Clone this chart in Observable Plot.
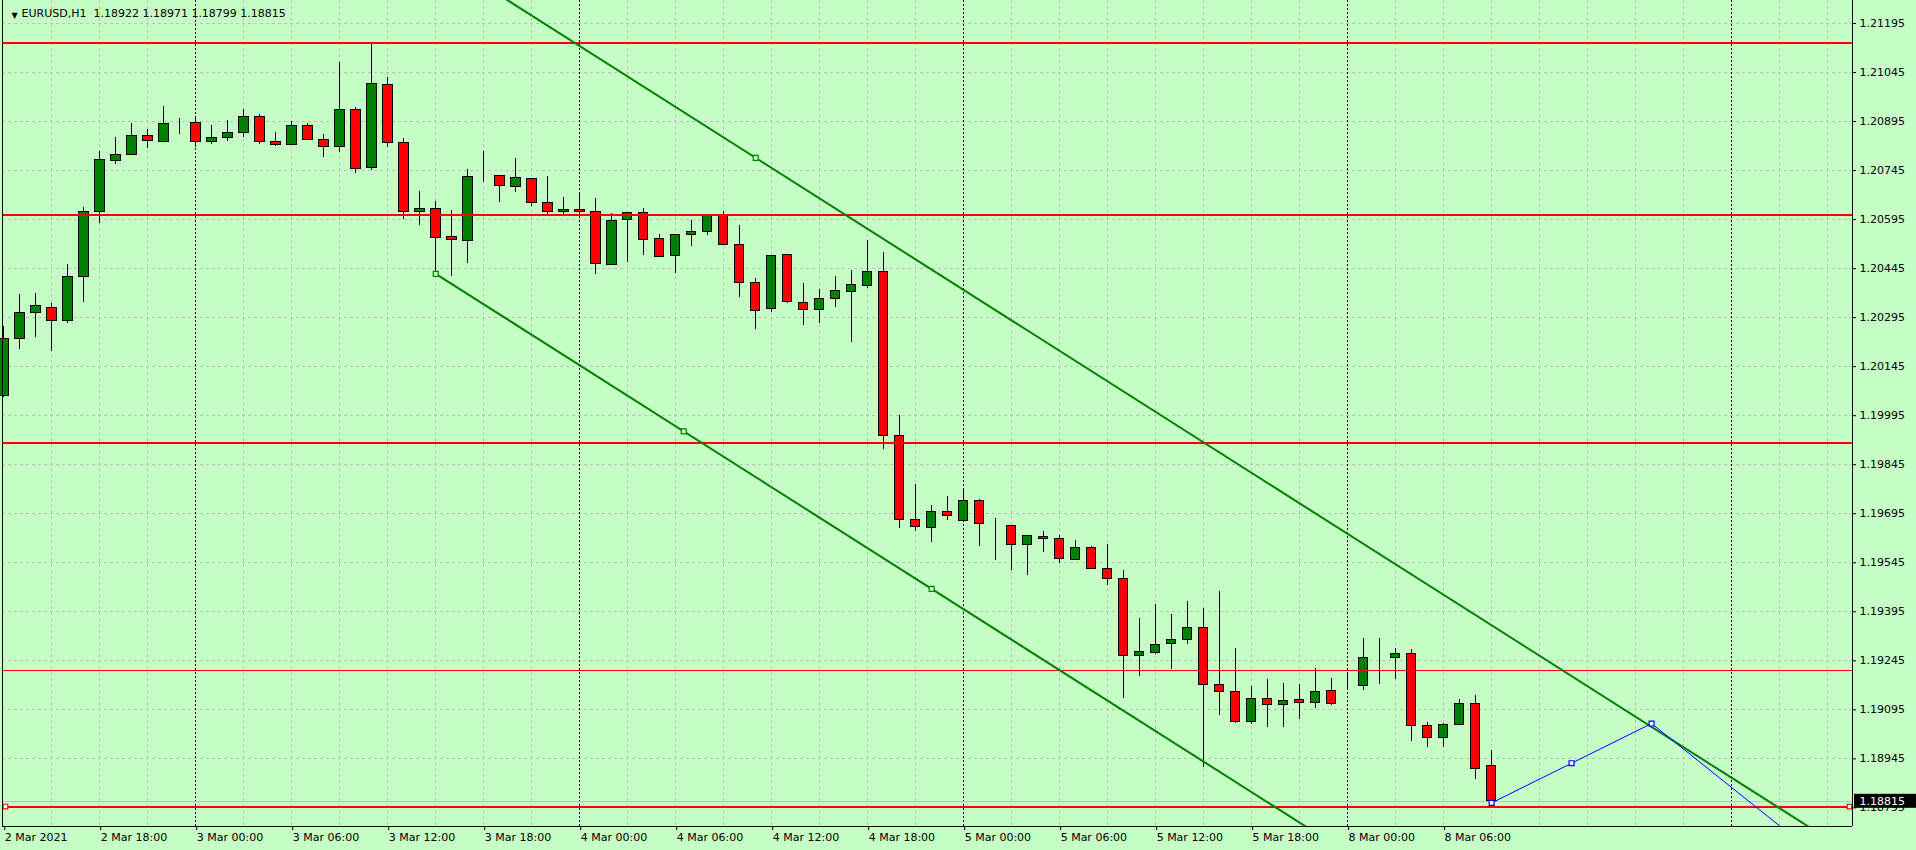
<!DOCTYPE html>
<html>
<head>
<meta charset="utf-8">
<script src="https://cdn.jsdelivr.net/npm/d3@7"></script>
<script src="https://cdn.jsdelivr.net/npm/@observablehq/plot@0.6"></script>
<style>
html, body { margin: 0; padding: 0; background: #C5FFC5; overflow: hidden; }
#chart svg { display: block; }
</style>
</head>
<body>
<div id="chart"></div>
<script>
// ---- data (EURUSD H1, bars from 2 Mar 2021 12:00) ----
const symbol = "EURUSD,H1";
const open = [1.20055,1.20230,1.20310,1.20325,1.20285,1.20420,1.20619,1.20775,1.20793,1.20851,
  1.20833,1.20893,1.20891,1.20833,1.20845,1.20861,1.20910,1.20833,1.20824,1.20882,
  1.20839,1.20818,1.20931,1.20753,1.21007,1.20830,1.20619,1.20628,1.20542,1.20530,
  1.20726,1.20729,1.20695,1.20720,1.20646,1.20619,1.20625,1.20619,1.20457,1.20594,
  1.20616,1.20536,1.20484,1.20548,1.20558,1.20610,1.20518,1.20402,1.20322,1.20487,
  1.20340,1.20319,1.20353,1.20374,1.20392,1.20435,1.19933,1.19676,1.19652,1.19701,
  1.19673,1.19735,1.19658,1.19658,1.19600,1.19624,1.19618,1.19554,1.19591,1.19526,
  1.19496,1.19260,1.19269,1.19297,1.19309,1.19346,1.19171,1.19150,1.19057,1.19129,
  1.19110,1.19126,1.19116,1.19153,1.19168,1.19168,1.19252,1.19253,1.19266,1.19046,
  1.19009,1.19049,1.19113,1.18922];
const high = [1.20268,1.20366,1.20369,1.20339,1.20458,1.20631,1.20803,1.20846,1.20889,1.20871,
  1.20941,1.20903,1.20908,1.20883,1.20898,1.20932,1.20917,1.20862,1.20895,1.20888,
  1.20855,1.21076,1.20937,1.21131,1.21029,1.20842,1.20681,1.20650,1.20623,1.20747,
  1.20803,1.20729,1.20782,1.20720,1.20727,1.20663,1.20671,1.20659,1.20613,1.20616,
  1.20628,1.20548,1.20548,1.20591,1.20610,1.20620,1.20576,1.20414,1.20484,1.20487,
  1.20399,1.20380,1.20421,1.20438,1.20530,1.20493,1.19996,1.19783,1.19719,1.19747,
  1.19771,1.19738,1.19679,1.19658,1.19627,1.19640,1.19627,1.19612,1.19595,1.19600,
  1.19521,1.19374,1.19417,1.19387,1.19426,1.19404,1.19456,1.19282,1.19165,1.19187,
  1.19175,1.19171,1.19220,1.19190,1.19206,1.19312,1.19312,1.19282,1.19279,1.19055,
  1.19052,1.19126,1.19138,1.18971];
const low = [1.20051,1.20198,1.20235,1.20192,1.20276,1.20342,1.20584,1.20763,1.20790,1.20813,
  1.20833,1.20854,1.20817,1.20826,1.20833,1.20845,1.20826,1.20820,1.20824,1.20839,
  1.20786,1.20799,1.20735,1.20744,1.20817,1.20594,1.20578,1.20431,1.20422,1.20462,
  1.20709,1.20648,1.20679,1.20636,1.20610,1.20610,1.20610,1.20428,1.20457,1.20465,
  1.20486,1.20481,1.20431,1.20514,1.20545,1.20518,1.20358,1.20260,1.20310,1.20337,
  1.20270,1.20276,1.20325,1.20220,1.20383,1.19892,1.19649,1.19640,1.19608,1.19673,
  1.19671,1.19596,1.19553,1.19522,1.19507,1.19575,1.19544,1.19554,1.19523,1.19476,
  1.19130,1.19198,1.19263,1.19219,1.19294,1.18919,1.19078,1.19054,1.19051,1.19042,
  1.19042,1.19066,1.19098,1.19107,1.19154,1.19155,1.19173,1.19189,1.18999,1.18979,
  1.18981,1.19049,1.18881,1.18799];
const close = [1.20230,1.20310,1.20331,1.20285,1.20420,1.20619,1.20778,1.20793,1.20851,1.20836,
  1.20888,1.20893,1.20833,1.20845,1.20861,1.20910,1.20833,1.20824,1.20882,1.20839,
  1.20818,1.20931,1.20750,1.21011,1.20830,1.20619,1.20628,1.20540,1.20533,1.20726,
  1.20726,1.20698,1.20723,1.20646,1.20619,1.20625,1.20619,1.20460,1.20591,1.20616,
  1.20533,1.20481,1.20548,1.20558,1.20610,1.20518,1.20402,1.20316,1.20484,1.20343,
  1.20319,1.20353,1.20377,1.20395,1.20435,1.19933,1.19676,1.19655,1.19701,1.19689,
  1.19735,1.19664,1.19658,1.19600,1.19627,1.19618,1.19557,1.19591,1.19526,1.19496,
  1.19260,1.19272,1.19294,1.19309,1.19346,1.19171,1.19150,1.19057,1.19129,1.19110,
  1.19122,1.19116,1.19150,1.19113,1.19168,1.19254,1.19252,1.19266,1.19046,1.19009,
  1.19049,1.19113,1.18914,1.18815];

const timeLabelBars = [0,6,12,18,24,30,36,42,48,54,60,66,72,78,84,90];
const timeLabels = ["2 Mar 2021","2 Mar 18:00","3 Mar 00:00","3 Mar 06:00","3 Mar 12:00","3 Mar 18:00",
  "4 Mar 00:00","4 Mar 06:00","4 Mar 12:00","4 Mar 18:00","5 Mar 00:00","5 Mar 06:00",
  "5 Mar 12:00","5 Mar 18:00","8 Mar 00:00","8 Mar 06:00"];
const daySeparatorBars = [12,36,60,84,108];
const priceTicks = [1.18795,1.18945,1.19095,1.19245,1.19395,1.19545,1.19695,1.19845,1.19995,
  1.20145,1.20295,1.20445,1.20595,1.20745,1.20895,1.21045,1.21195];

const levelPrices = [1.21135, 1.20610, 1.19910, 1.18799];   // thick horizontal lines
const thinLevelPrices = [1.19215];                           // thin horizontal line
const selectedLevel = 1.18799;
const bid = 1.18815;

const channelBars = [27, 58];
const channelPrices = [1.20429, 1.19465];
const channelThirdBar = 47;
const channelThirdPrice = 1.20784;

const blueBars = [93, 103];
const bluePrices = [1.18810, 1.19053];
const blueRayBars = [103, 111];
const blueRayPrices = [1.19053, 1.18740];

// ---- style / layout ----
const bg = "#C5FFC5";
const gridGray = "#BDBDBD";
const bull = "#008000", bear = "#FF0000";
const W = 1916, H = 850, mL = 2, mR = 64, mT = 0, mB = 24;
const xDomain = [-0.08, 115.56];
const yDomain = [1.187379, 1.212654];

const candles = open.map((o, i) => ({i, o, h: high[i], l: low[i], c: close[i]}));
const gridBars = d3.range(3, 116, 3).filter(b => !daySeparatorBars.includes(b));

const slope = (channelPrices[1] - channelPrices[0]) / (channelBars[1] - channelBars[0]);
const lowerAt = b => channelPrices[0] + slope * (b - channelBars[0]);
const upperAt = b => channelThirdPrice + slope * (b - channelThirdBar);
const xEnd = xDomain[1];
const lowerLine = [channelBars[0], xEnd].map(b => ({i: b, p: lowerAt(b)}));
const upperLine = [channelBars[0], xEnd].map(b => ({i: b, p: upperAt(b)}));
const greenMarks = [
  {i: channelBars[0], p: lowerAt(channelBars[0])},
  {i: (channelBars[0] + channelBars[1]) / 2, p: lowerAt((channelBars[0] + channelBars[1]) / 2)},
  {i: channelBars[1], p: lowerAt(channelBars[1])},
  {i: channelThirdBar, p: channelThirdPrice}
];
const blueSeg = blueBars.map((b, k) => ({i: b, p: bluePrices[k]}));
const blueMarks = [blueSeg[0], {i: (blueBars[0] + blueBars[1]) / 2, p: (bluePrices[0] + bluePrices[1]) / 2}, blueSeg[1]];
const raySlope = (blueRayPrices[1] - blueRayPrices[0]) / (blueRayBars[1] - blueRayBars[0]);
const blueRay = [blueRayBars[0], xEnd].map(b => ({i: b, p: blueRayPrices[0] + raySlope * (b - blueRayBars[0])}));

const last = candles.length - 1;
const titleText = `${symbol}\u00a0\u00a0${open[last].toFixed(5)} ${high[last].toFixed(5)} ${low[last].toFixed(5)} ${close[last].toFixed(5)}`;

const crisp = {shapeRendering: "crispEdges"};

const chart = Plot.plot({
  width: W, height: H,
  marginLeft: mL, marginRight: mR, marginTop: mT, marginBottom: mB,
  style: {background: bg, fontFamily: "DejaVu Sans", fontSize: "11px", color: "black"},
  x: {type: "linear", domain: xDomain},
  y: {type: "linear", domain: yDomain},
  color: {type: "identity"},
  marks: [
    Plot.ruleY(priceTicks, {stroke: gridGray, strokeDasharray: "3,3", ...crisp}),
    Plot.ruleX(gridBars, {stroke: gridGray, strokeDasharray: "3,3", ...crisp}),
    Plot.ruleX(daySeparatorBars, {stroke: "black", strokeDasharray: "2,2", ...crisp}),
    Plot.ruleX(candles, {x: "i", y1: "l", y2: "h", stroke: "black", ...crisp}),
    Plot.rect(candles, {x1: d => d.i - 0.3, x2: d => d.i + 0.3, y1: "o", y2: "c",
      fill: d => d.c > d.o ? bull : bear, stroke: "black", ...crisp}),
    Plot.ruleY([bid], {stroke: "#C0C0C0", ...crisp}),
    Plot.ruleY(levelPrices, {stroke: "#FF0000", strokeWidth: 2, ...crisp}),
    Plot.ruleY(thinLevelPrices, {stroke: "#FF0000", strokeWidth: 1, ...crisp}),
    Plot.line(lowerLine, {x: "i", y: "p", stroke: bull, strokeWidth: 2, clip: true}),
    Plot.line(upperLine, {x: "i", y: "p", stroke: bull, strokeWidth: 2, clip: true}),
    Plot.line(blueSeg, {x: "i", y: "p", stroke: "#0000FF", strokeWidth: 1, clip: true}),
    Plot.line(blueRay, {x: "i", y: "p", stroke: "#0000FF", strokeWidth: 1, clip: true}),
    Plot.dot(greenMarks, {x: "i", y: "p", symbol: "square", r: 2.8, stroke: bull, fill: bg, strokeWidth: 1.2}),
    Plot.dot(blueMarks, {x: "i", y: "p", symbol: "square", r: 2.8, stroke: "#0000FF", fill: "white", strokeWidth: 1.2}),
    Plot.dot([selectedLevel], {y: d => d, frameAnchor: "left", dx: 3, symbol: "square", r: 2.6, stroke: "#FF0000", fill: "white", strokeWidth: 1.2}),
    Plot.dot([selectedLevel], {y: d => d, frameAnchor: "right", dx: -3, symbol: "square", r: 2.6, stroke: "#FF0000", fill: "white", strokeWidth: 1.2}),
    Plot.ruleX(xDomain, {stroke: "black", ...crisp}),
    Plot.ruleY([yDomain[0]], {stroke: "black", ...crisp}),
    Plot.axisX(timeLabelBars, {anchor: "bottom", label: null, tickSize: 4, tickPadding: 3,
      textAnchor: "start", dx: 1, tickFormat: d => timeLabels[timeLabelBars.indexOf(d)]}),
    Plot.axisY(priceTicks, {anchor: "right", label: null, tickSize: 3, tickPadding: 4,
      tickFormat: d => d.toFixed(5)}),
    Plot.rect([bid], {y1: d => d, y2: d => d, insetTop: -7, insetBottom: -7,
      insetLeft: (W - mL - mR) + 2, insetRight: -mR, fill: "black"}),
    Plot.text([bid], {y: d => d, text: d => d.toFixed(5), frameAnchor: "right", textAnchor: "start", dx: 7, fill: "white"}),
    Plot.text(["\u25BC"], {frameAnchor: "top-left", dx: 9, dy: 12, fontSize: 8, fill: "black"}),
    Plot.text([titleText], {frameAnchor: "top-left", textAnchor: "start", lineAnchor: "middle", dx: 19, dy: 13, fill: "black"})
  ]
});
document.getElementById("chart").appendChild(chart);
</script>
</body>
</html>
